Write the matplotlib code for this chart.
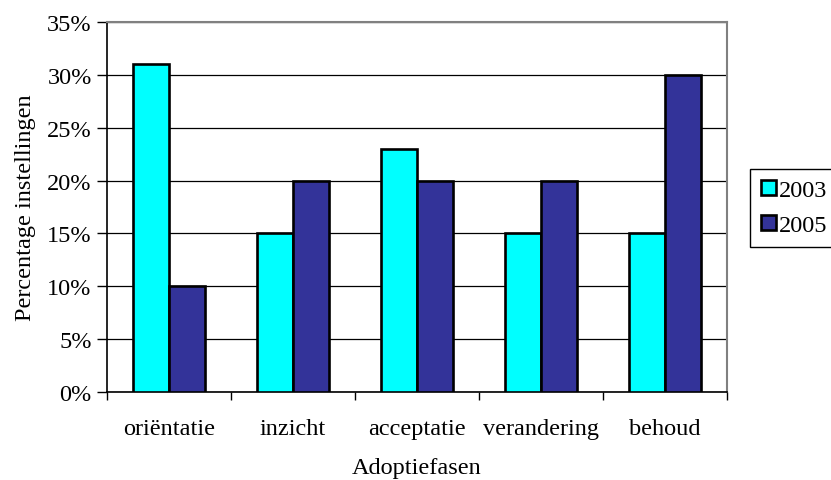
import matplotlib.pyplot as plt
import numpy as np

plt.rcParams['font.family'] = ['Liberation Serif', 'DejaVu Serif']
plt.rcParams['font.size'] = 17.5

fasen = ['oriëntatie', 'inzicht', 'acceptatie', 'verandering', 'behoud']
jaren = ['2003', '2005']
pct_2003 = [31, 15, 23, 15, 15]
pct_2005 = [10, 20, 20, 20, 30]
kleuren = ['#00FFFF', '#333399']

W, H = 831, 481
fig = plt.figure(figsize=(W / 100, H / 100), dpi=100)
ax = fig.add_axes([107 / W, (H - 393) / H, 620 / W, 370 / H])

x = np.arange(len(fasen))
bw = 0.29
for i, (vals, jaar) in enumerate(zip([pct_2003, pct_2005], jaren)):
    ax.bar(x + (i - 0.5) * bw, vals, bw, color=kleuren[i], edgecolor='black',
           linewidth=1.9, label=jaar, zorder=3)

ax.set_xlim(-0.5, len(fasen) - 0.5)
ax.set_ylim(0, 35)
ax.set_yticks(np.arange(0, 36, 5))
ax.set_yticklabels([f'{v}%' for v in range(0, 36, 5)])
ax.yaxis.grid(True, color='black', linewidth=0.9, zorder=0)

# category labels at centres, tick marks at the boundaries
ax.set_xticks(x)
ax.set_xticklabels(fasen)
ax.tick_params(axis='x', length=0, pad=19)
ax.set_xticks(np.arange(-0.5, len(fasen), 1), minor=True)
ax.tick_params(axis='x', which='minor', length=6, width=1, direction='out')
ax.tick_params(axis='y', length=7, width=1, direction='out', pad=4)

for s in ['top', 'right']:
    ax.spines[s].set_color('#808080')
    ax.spines[s].set_linewidth(1.5)
for s in ['left', 'bottom']:
    ax.spines[s].set_color('black')
    ax.spines[s].set_linewidth(1.2)

ax.set_ylabel('Percentage instellingen', labelpad=8)
ax.set_xlabel('Adoptiefasen', labelpad=13)

fig.legend(loc='upper left', bbox_to_anchor=(750 / W, 1 - 170 / H),
           frameon=True, fancybox=False, edgecolor='black', framealpha=1,
           handlelength=0.6, handleheight=0.6, handletextpad=0.15,
           borderpad=0.45, labelspacing=0.55, borderaxespad=0)

fig.savefig('out.png', dpi=100)
